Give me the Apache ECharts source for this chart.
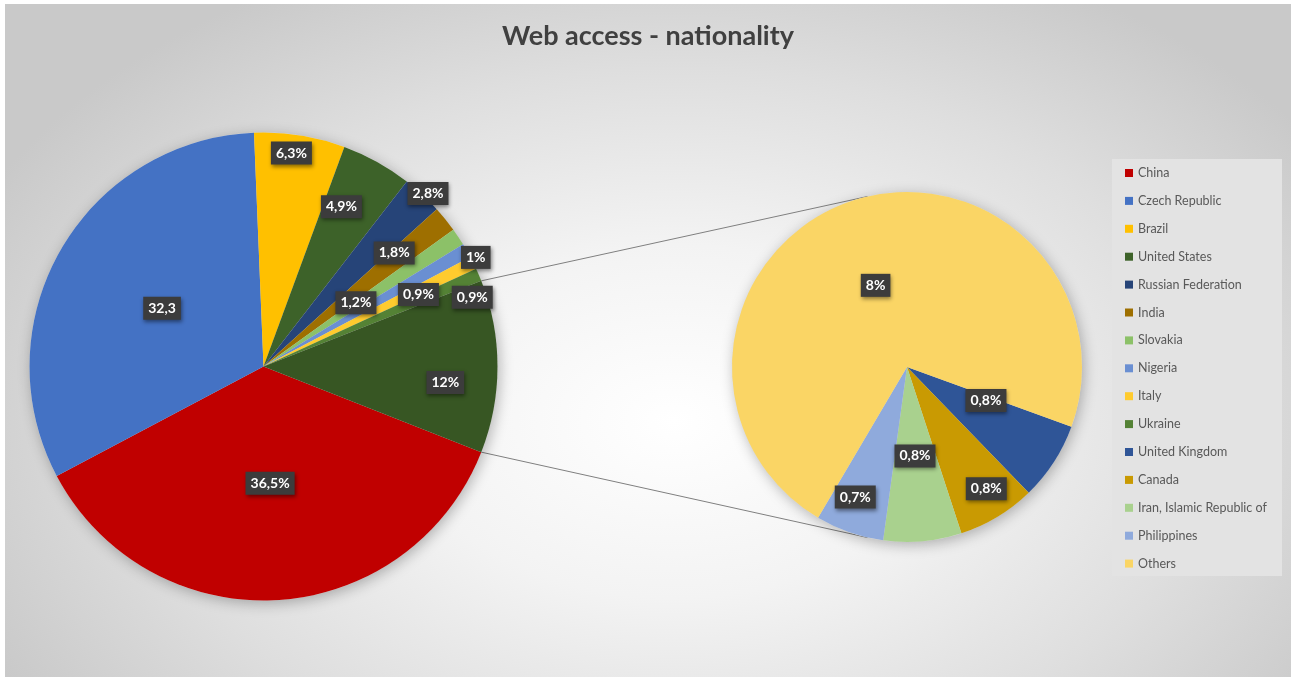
<!DOCTYPE html>
<html>
<head>
<meta charset="utf-8">
<script src="https://cdn.jsdelivr.net/npm/echarts@6/dist/echarts.min.js"></script>
<style>
  html, body { margin: 0; padding: 0; background: #ffffff; width: 1291px; height: 677px; overflow: hidden; }
  #chart { position: absolute; left: 5px; top: 4px; width: 1286px; height: 673px;
    background: radial-gradient(ellipse 60% 75% at 52% 62%, #ffffff 0%, #f3f3f3 35%, #dedede 70%, #c9c9c9 100%); }
</style>
</head>
<body>
<div id="chart"></div>
<script>
// ---- data ----
const mainNames = ['China', 'Czech Republic', 'Brazil', 'United States', 'Russian Federation', 'India', 'Slovakia', 'Nigeria', 'Italy', 'Ukraine', 'Other'];
const mainValues = [36.5, 32.3, 6.3, 4.9, 2.8, 1.8, 1.2, 1, 0.9, 0.9, 12];
const mainLabels = ['36,5%', '32,3', '6,3%', '4,9%', '2,8%', '1,8%', '1,2%', '1%', '0,9%', '0,9%', '12%'];
const subNames = ['United Kingdom', 'Canada', 'Iran, Islamic Republic of', 'Philippines', 'Others'];
const subValues = [0.8, 0.8, 0.8, 0.7, 8];
const subLabels = ['0,8%', '0,8%', '0,8%', '0,7%', '8%'];
const titleText = 'Web access - nationality';

// ---- styles ----
const mainColors = ['#C00000', '#4472C4', '#FFC000', '#3D6229', '#264478', '#9E6F00', '#8CC168', '#6A8FD2', '#FFCB2E', '#548235', '#375623'];
const subColors = ['#2F5597', '#C99A02', '#A9D18E', '#8FAADC', '#FAD565'];
// label placement: [fraction of radius, angle offset in degrees]
const mainLabelPos = [[0.5, 0], [0.5, 0], [0.92, 1.5], [0.76, 3], [1.02, -0.8], [0.74, 2], [0.48, 1], [1.02, -2.5], [0.73, -1.4], [0.94, -4.7], [0.78, -5]];
const subLabelPos = [[0.49, 10], [0.83, 2], [0.51, 0], [0.8, -2.5], [0.5, 1.3]];

const MAIN = { cx: 258.5, cy: 362.5, r: 234 };
const SUB = { cx: 902, cy: 363, r: 175 };

const sum = a => a.reduce((s, v) => s + v, 0);
const mainTotal = sum(mainValues);
const otherDeg = mainValues[mainValues.length - 1] / mainTotal * 360;
const mainStart = -otherDeg / 2;
const subStart = -20;

function midAngle(values, start, i) {
  const tot = sum(values);
  let before = 0;
  for (let k = 0; k < i; k++) before += values[k];
  return start - (before + values[i] / 2) / tot * 360;
}
function labelPoint(geo, values, start, posArr, i) {
  const a = (midAngle(values, start, i) + posArr[i][1]) * Math.PI / 180;
  const f = posArr[i][0];
  return { x: geo.cx + f * geo.r * Math.cos(a), y: geo.cy - f * geo.r * Math.sin(a) };
}

const labelStyle = {
  show: true,
  position: 'inside',
  color: '#ffffff',
  fontFamily: 'Lato',
  fontWeight: 'bold',
  fontSize: 14,
  backgroundColor: '#3c3c3c',
  padding: [5, 5, 4, 5],
  shadowColor: 'rgba(0,0,0,0.45)',
  shadowBlur: 4,
  shadowOffsetX: 1,
  shadowOffsetY: 2
};

// connector lines from the "Other" slice edges to the secondary pie
const upA = otherDeg / 2 * Math.PI / 180;
const secA = 103 * Math.PI / 180;
const p1 = [MAIN.cx + MAIN.r * Math.cos(upA), MAIN.cy - MAIN.r * Math.sin(upA)];
const p2 = [MAIN.cx + MAIN.r * Math.cos(-upA), MAIN.cy - MAIN.r * Math.sin(-upA)];
const q1 = [SUB.cx + SUB.r * Math.cos(secA), SUB.cy - SUB.r * Math.sin(secA)];
const q2 = [SUB.cx + SUB.r * Math.cos(-secA), SUB.cy - SUB.r * Math.sin(-secA)];

const chart = echarts.init(document.getElementById('chart'), null, { renderer: 'canvas' });

const legendNames = mainNames.slice(0, mainNames.length - 1).concat(subNames);

chart.setOption({
  backgroundColor: 'transparent',
  animation: false,
  title: {
    text: titleText,
    left: 'center',
    top: 14,
    textStyle: { fontFamily: 'Lato', fontWeight: 'bold', fontSize: 27, color: '#404040' }
  },
  legend: {
    orient: 'vertical',
    left: 1115,
    top: 157,
    data: legendNames,
    icon: 'rect',
    itemWidth: 8,
    itemHeight: 8,
    itemGap: 13.9,
    selectedMode: false,
    textStyle: { fontFamily: 'Lato', fontSize: 12.5, color: '#595959', lineHeight: 14 }
  },
  graphic: [
    { type: 'rect', left: 1107, top: 155, z: -1, shape: { width: 170, height: 417 }, style: { fill: '#e3e3e3' }, silent: true },
    { type: 'line', z: 1, shape: { x1: p1[0], y1: p1[1], x2: q1[0], y2: q1[1] }, style: { stroke: '#7f7f7f', lineWidth: 1 }, silent: true },
    { type: 'line', z: 1, shape: { x1: p2[0], y1: p2[1], x2: q2[0], y2: q2[1] }, style: { stroke: '#7f7f7f', lineWidth: 1 }, silent: true }
  ],
  series: [
    {
      type: 'pie', silent: true, center: [MAIN.cx, MAIN.cy], radius: MAIN.r, z: 1,
      label: { show: false }, labelLine: { show: false },
      data: [{ value: 1, name: '_shadowMain', itemStyle: { color: '#dddddd', shadowBlur: 14, shadowColor: 'rgba(0,0,0,0.28)', shadowOffsetX: 2, shadowOffsetY: 3 } }]
    },
    {
      type: 'pie', silent: true, center: [SUB.cx, SUB.cy], radius: SUB.r, z: 1,
      label: { show: false }, labelLine: { show: false },
      data: [{ value: 1, name: '_shadowSub', itemStyle: { color: '#dddddd', shadowBlur: 14, shadowColor: 'rgba(0,0,0,0.28)', shadowOffsetX: 2, shadowOffsetY: 3 } }]
    },
    {
      name: 'Main',
      type: 'pie',
      z: 2,
      center: [MAIN.cx, MAIN.cy],
      radius: MAIN.r,
      startAngle: mainStart,
      clockwise: true,
      minAngle: 0,
      avoidLabelOverlap: false,
      emphasis: { disabled: true },
      itemStyle: { borderWidth: 0 },
      label: Object.assign({}, labelStyle, { formatter: p => mainLabels[p.dataIndex] }),
      labelLine: { show: false },
      labelLayout: p => {
        const pt = labelPoint(MAIN, mainValues, mainStart, mainLabelPos, p.dataIndex);
        return { x: pt.x, y: pt.y, align: 'center', verticalAlign: 'middle' };
      },
      data: mainNames.map((n, i) => ({ name: n, value: mainValues[i], itemStyle: { color: mainColors[i] } }))
    },
    {
      name: 'Secondary',
      type: 'pie',
      z: 2,
      center: [SUB.cx, SUB.cy],
      radius: SUB.r,
      startAngle: subStart,
      clockwise: true,
      minAngle: 0,
      avoidLabelOverlap: false,
      emphasis: { disabled: true },
      itemStyle: { borderWidth: 0 },
      label: Object.assign({}, labelStyle, { formatter: p => subLabels[p.dataIndex] }),
      labelLine: { show: false },
      labelLayout: p => {
        const pt = labelPoint(SUB, subValues, subStart, subLabelPos, p.dataIndex);
        return { x: pt.x, y: pt.y, align: 'center', verticalAlign: 'middle' };
      },
      data: subNames.map((n, i) => ({ name: n, value: subValues[i], itemStyle: { color: subColors[i] } }))
    }
  ]
});
</script>
</body>
</html>
